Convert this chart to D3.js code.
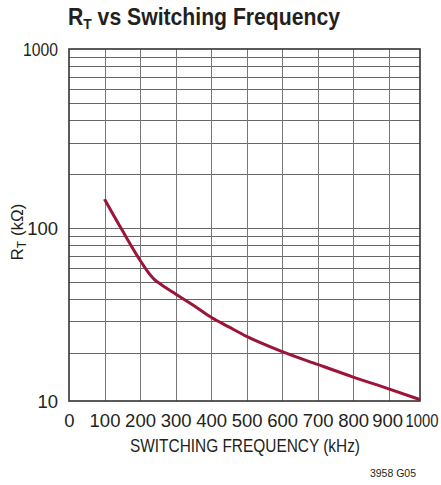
<!DOCTYPE html>
<html>
<head>
<meta charset="utf-8">
<script src="https://cdn.jsdelivr.net/npm/d3@7"></script>
<style>
  html, body { margin: 0; padding: 0; background: #fff; }
  svg { display: block; }
  text { font-family: "Liberation Sans", Arial, Helvetica, sans-serif; fill: #231f20; }
</style>
</head>
<body>
<div id="chart"></div>
<script>
// ---- data ----
const freqKHz = [100, 150, 200, 220, 240, 260, 300, 350, 400, 450, 500, 600, 700, 800, 900, 1000];
const rtKOhm  = [145, 97, 66, 57.5, 51.5, 48.1, 42.7, 36.9, 31.6, 27.9, 24.7, 20.3, 16.9, 14.1, 11.9, 10.2];
const xTicks = [0, 100, 200, 300, 400, 500, 600, 700, 800, 900, 1000];
const yTicks = [10, 100, 1000];
const yGrid = [20, 30, 40, 50, 60, 70, 80, 90, 100, 200, 300, 400, 500, 600, 700, 800, 900];
const xGrid = [100, 200, 300, 400, 500, 600, 700, 800, 900];
const titleMain = "R";
const titleSub = "T";
const titleRest = " vs Switching Frequency";
const xLabel = "SWITCHING FREQUENCY (kHz)";
const yLabelMain = "R";
const yLabelSub = "T";
const yLabelRest = " (kΩ)";
const footnote = "3958 G05";

// ---- layout ----
const W = 441, H = 485;
const mL = 69, mR = 420, mT = 49, mB = 401;

const x = d3.scaleLinear().domain([0, 900, 1000]).range([mL, 388.7, mR]);
const y = d3.scaleLog().domain([10, 20, 100, 1000]).range([mB, 352.7, 228, mT]);

const svg = d3.select("#chart").append("svg").attr("width", W).attr("height", H);

// grid
const g = svg.append("g");
g.selectAll("line.hg").data(yGrid).enter().append("line")
  .attr("x1", mL).attr("x2", mR)
  .attr("y1", d => Math.round(y(d)) + 0.5).attr("y2", d => Math.round(y(d)) + 0.5)
  .attr("stroke", "#666").attr("stroke-width", 1);
g.selectAll("line.vg").data(xGrid).enter().append("line")
  .attr("y1", mT).attr("y2", mB)
  .attr("x1", d => Math.round(x(d)) + 0.5).attr("x2", d => Math.round(x(d)) + 0.5)
  .attr("stroke", "#777").attr("stroke-width", 1);

// frame
svg.append("rect").attr("x", mL).attr("y", mT)
  .attr("width", mR - mL).attr("height", mB - mT)
  .attr("fill", "none").attr("stroke", "#333").attr("stroke-width", 1.6);

// curve
const line = d3.line().x(d => x(d[0])).y(d => y(d[1])).curve(d3.curveMonotoneX);
svg.append("path").datum(freqKHz.map((f, i) => [f, rtKOhm[i]]))
  .attr("d", line).attr("fill", "none")
  .attr("stroke", "#9c1538").attr("stroke-width", 3).attr("stroke-linecap", "butt");

// x axis labels
const xAxis = d3.axisBottom(x).tickValues(xTicks).tickSize(0).tickPadding(0).tickFormat(d3.format("d"));
const xg = svg.append("g").attr("transform", `translate(0,${mB})`).call(xAxis);
xg.select(".domain").remove();
xg.attr("font-family", null).attr("font-size", null);
xg.selectAll("text").attr("font-size", 18.5).attr("dy", null).attr("y", 26)
  .each(function(d) {
    if (d === 1000) d3.select(this).attr("text-anchor", "start").attr("x", -15)
      .attr("textLength", 33).attr("lengthAdjust", "spacingAndGlyphs");
    if (d === 900) d3.select(this).attr("x", -1.5);
  });

// y axis labels
const yAxis = d3.axisLeft(y).tickValues(yTicks).tickSize(0).tickPadding(0).tickFormat(d3.format("d"));
const yg = svg.append("g").attr("transform", `translate(${mL - 11},0)`).call(yAxis);
yg.select(".domain").remove();
yg.attr("font-family", null).attr("font-size", null);
yg.selectAll("text").attr("font-size", 18.5).attr("dy", "0.36em")
  .each(function(d) {
    if (d === 1000) d3.select(this).attr("text-anchor", "start").attr("x", -35)
      .attr("textLength", 35).attr("lengthAdjust", "spacingAndGlyphs");
  });
svg.selectAll(".tick text").attr("fill", "#231f20");

// title
const t = svg.append("text").attr("x", 68).attr("y", 25).attr("font-size", 23).attr("font-weight", "bold")
  .attr("textLength", 272).attr("lengthAdjust", "spacingAndGlyphs");
t.append("tspan").text(titleMain);
t.append("tspan").attr("font-size", 15).attr("dy", 4).text(titleSub);
t.append("tspan").attr("dy", -4).text(titleRest);

// x label
svg.append("text").attr("x", 130).attr("y", 452)
  .attr("font-size", 17.5).attr("textLength", 230).attr("lengthAdjust", "spacingAndGlyphs").text(xLabel);

// y label
const yl = svg.append("text").attr("transform", `translate(23,232) rotate(-90)`)
  .attr("text-anchor", "middle").attr("font-size", 17);
yl.append("tspan").text(yLabelMain);
yl.append("tspan").attr("font-size", 12).attr("dy", 3).text(yLabelSub);
yl.append("tspan").attr("dy", -3).text(yLabelRest);

// footnote
svg.append("text").attr("x", 416).attr("y", 477).attr("text-anchor", "end")
  .attr("font-size", 10.5).text(footnote);
</script>
</body>
</html>
